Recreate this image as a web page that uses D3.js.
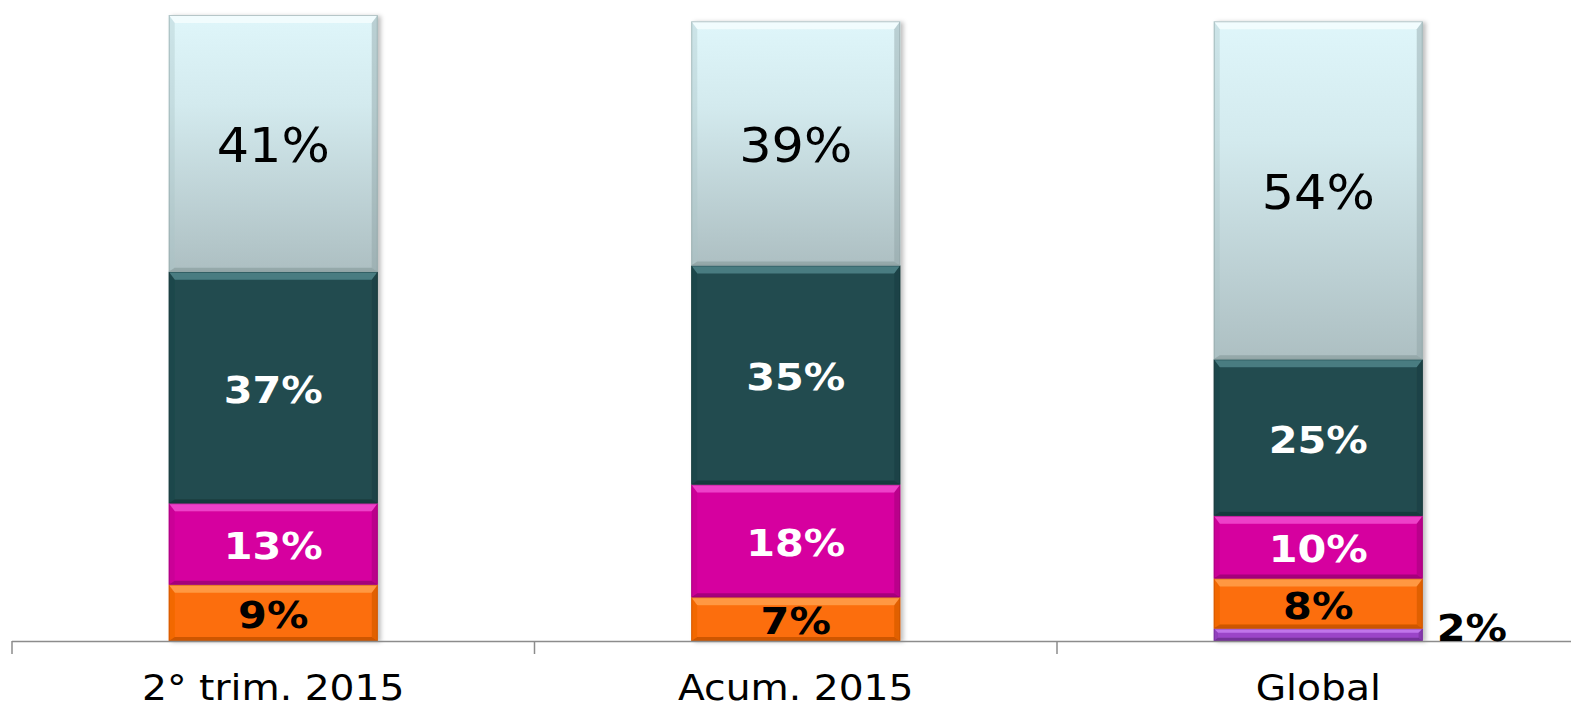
<!DOCTYPE html>
<html>
<head>
<meta charset="utf-8">
<script src="https://cdn.jsdelivr.net/npm/d3@7"></script>
<style>
  html, body { margin: 0; padding: 0; background: #fff; }
  svg { display: block; font-family: "DejaVu Sans", Verdana, sans-serif; }
</style>
</head>
<body>
<svg id="chart" width="1571" height="709"></svg>
<script>
// Categories and stacked shares (percent), bottom to top
const categories = ["2° trim. 2015", "Acum. 2015", "Global"];
const seriesNames = ["purple", "orange", "magenta", "teal", "light"];
const purpleVals  = [0, 0, 2];
const orangeVals  = [9, 7, 8];
const magentaVals = [13, 18, 10];
const tealVals    = [37, 35, 25];
const lightVals   = [41, 39, 54];

const W = 1571, H = 709;
const svg = d3.select("#chart");

const rows = categories.map((c, i) => ({
  cat: c,
  purple: purpleVals[i], orange: orangeVals[i], magenta: magentaVals[i],
  teal: tealVals[i], light: lightVals[i]
}));

const x = d3.scaleBand().domain(categories).range([12, 1579.5]).padding(0);
const y = d3.scaleLinear().domain([0, 100]).range([641, 15]);
const barW = x.bandwidth() * 0.4;

const style = {
  purple:  { fill: "#9b45c8", hi: "#c77cf0", lo: "#6c2a8f", side: "#7f34a8", label: "#000", weight: "bold", size: 38, sx: 1.09, outside: true },
  orange:  { fill: "#fc6e08", hi: "#ffa04d", lo: "#c25000", side: "#e05f00", label: "#000", weight: "bold", size: 38, sx: 1.09 },
  magenta: { fill: "#d6049f", hi: "#f24ad0", lo: "#9a0473", side: "#b8048a", label: "#fff", weight: "bold", size: 38, sx: 1.09 },
  teal:    { fill: "#234c50", hi: "#4f8589", lo: "#16373a", side: "#1b3f42", label: "#fff", weight: "bold", size: 38, sx: 1.09 },
  light:   { fill: "url(#lightGrad)", hi: "#f4fdfe", lo: "#8fa2a4", side: "#a9c3c6", label: "#000", weight: "normal", size: 48, sx: 1.06 }
};

const defs = svg.append("defs");
const lg = defs.append("linearGradient").attr("id", "lightGrad")
  .attr("x1", 0).attr("y1", 0).attr("x2", 0).attr("y2", 1);
lg.append("stop").attr("offset", "0%").attr("stop-color", "#dff6fa");
lg.append("stop").attr("offset", "35%").attr("stop-color", "#d3eaee");
lg.append("stop").attr("offset", "100%").attr("stop-color", "#adbfc2");

const shadow = defs.append("filter").attr("id", "shadow")
  .attr("x", "-5%").attr("y", "-5%").attr("width", "115%").attr("height", "115%");
shadow.append("feDropShadow").attr("dx", 3).attr("dy", 1).attr("stdDeviation", 2)
  .attr("flood-color", "#000").attr("flood-opacity", 0.25);

const stack = d3.stack().keys(seriesNames);
const stacked = stack(rows);

// Bars with a bevelled look
const barsG = svg.append("g").attr("filter", "url(#shadow)");
stacked.forEach(layer => {
  const key = layer.key;
  const s = style[key];
  layer.forEach((d, i) => {
    if (d[1] - d[0] <= 0) return;
    const cat = categories[i];
    const x0 = x(cat) + (x.bandwidth() - barW) / 2;
    const x1 = x0 + barW;
    const yTop = y(d[1]), yBot = y(d[0]);
    const h = yBot - yTop;
    const b = Math.min(8, h / 3);       // top bevel depth
    const bs = Math.min(6, h / 3);      // side bevel width
    const bb = Math.min(4, h / 4);      // bottom bevel depth
    const g = barsG.append("g");
    g.append("rect").attr("x", x0).attr("y", yTop).attr("width", barW).attr("height", h)
      .attr("fill", s.fill);
    g.append("path").attr("d", `M${x0},${yTop}L${x1},${yTop}L${x1 - bs},${yTop + b}L${x0 + bs},${yTop + b}Z`)
      .attr("fill", s.hi).attr("opacity", 0.85);
    g.append("path").attr("d", `M${x0},${yTop}L${x0 + bs},${yTop + b}L${x0 + bs},${yBot - bb}L${x0},${yBot}Z`)
      .attr("fill", s.side).attr("opacity", 0.35);
    g.append("path").attr("d", `M${x1},${yTop}L${x1 - bs},${yTop + b}L${x1 - bs},${yBot - bb}L${x1},${yBot}Z`)
      .attr("fill", s.lo).attr("opacity", 0.45);
    g.append("path").attr("d", `M${x0},${yBot}L${x1},${yBot}L${x1 - bs},${yBot - bb}L${x0 + bs},${yBot - bb}Z`)
      .attr("fill", s.lo).attr("opacity", 0.8);
    g.append("rect").attr("x", x0 + 0.5).attr("y", yTop + 0.5).attr("width", barW - 1).attr("height", h - 1)
      .attr("fill", "none").attr("stroke", s.lo).attr("stroke-opacity", 0.6).attr("stroke-width", 1);
  });
});

// Axis line and category boundary ticks
svg.append("line").attr("x1", 12).attr("x2", W).attr("y1", 641.5).attr("y2", 641.5)
  .attr("stroke", "#8c8c8c").attr("stroke-width", 1.5);
const bounds = categories.map(c => x(c)).concat([x(categories[categories.length - 1]) + x.bandwidth()]);
svg.selectAll("line.tick").data(bounds).join("line").attr("class", "tick")
  .attr("x1", d => d).attr("x2", d => d).attr("y1", 641).attr("y2", 654)
  .attr("stroke", "#8c8c8c").attr("stroke-width", 1.5);

// Category labels
svg.selectAll("text.cat").data(categories).join("text").attr("class", "cat")
  .attr("transform", d => `translate(${x(d) + x.bandwidth() / 2},700) scale(1.09,1)`)
  .attr("text-anchor", "middle").attr("font-size", 36).attr("fill", "#000")
  .text(d => d);

// Value labels
stacked.forEach(layer => {
  const s = style[layer.key];
  layer.forEach((d, i) => {
    const v = d[1] - d[0];
    if (v <= 0) return;
    const cat = categories[i];
    const cx = x(cat) + x.bandwidth() / 2;
    const t = svg.append("text").attr("font-size", s.size).attr("font-weight", s.weight)
      .attr("fill", s.label).text(v + "%");
    if (s.outside) {
      t.attr("text-anchor", "start")
        .attr("transform", `translate(${cx + barW / 2 + 14},${y(0)}) scale(${s.sx},1)`);
    } else {
      t.attr("text-anchor", "middle").attr("dominant-baseline", "central")
        .attr("transform", `translate(${cx},${(y(d[0]) + y(d[1])) / 2 + 2}) scale(${s.sx},1)`);
    }
  });
});
</script>
</body>
</html>
